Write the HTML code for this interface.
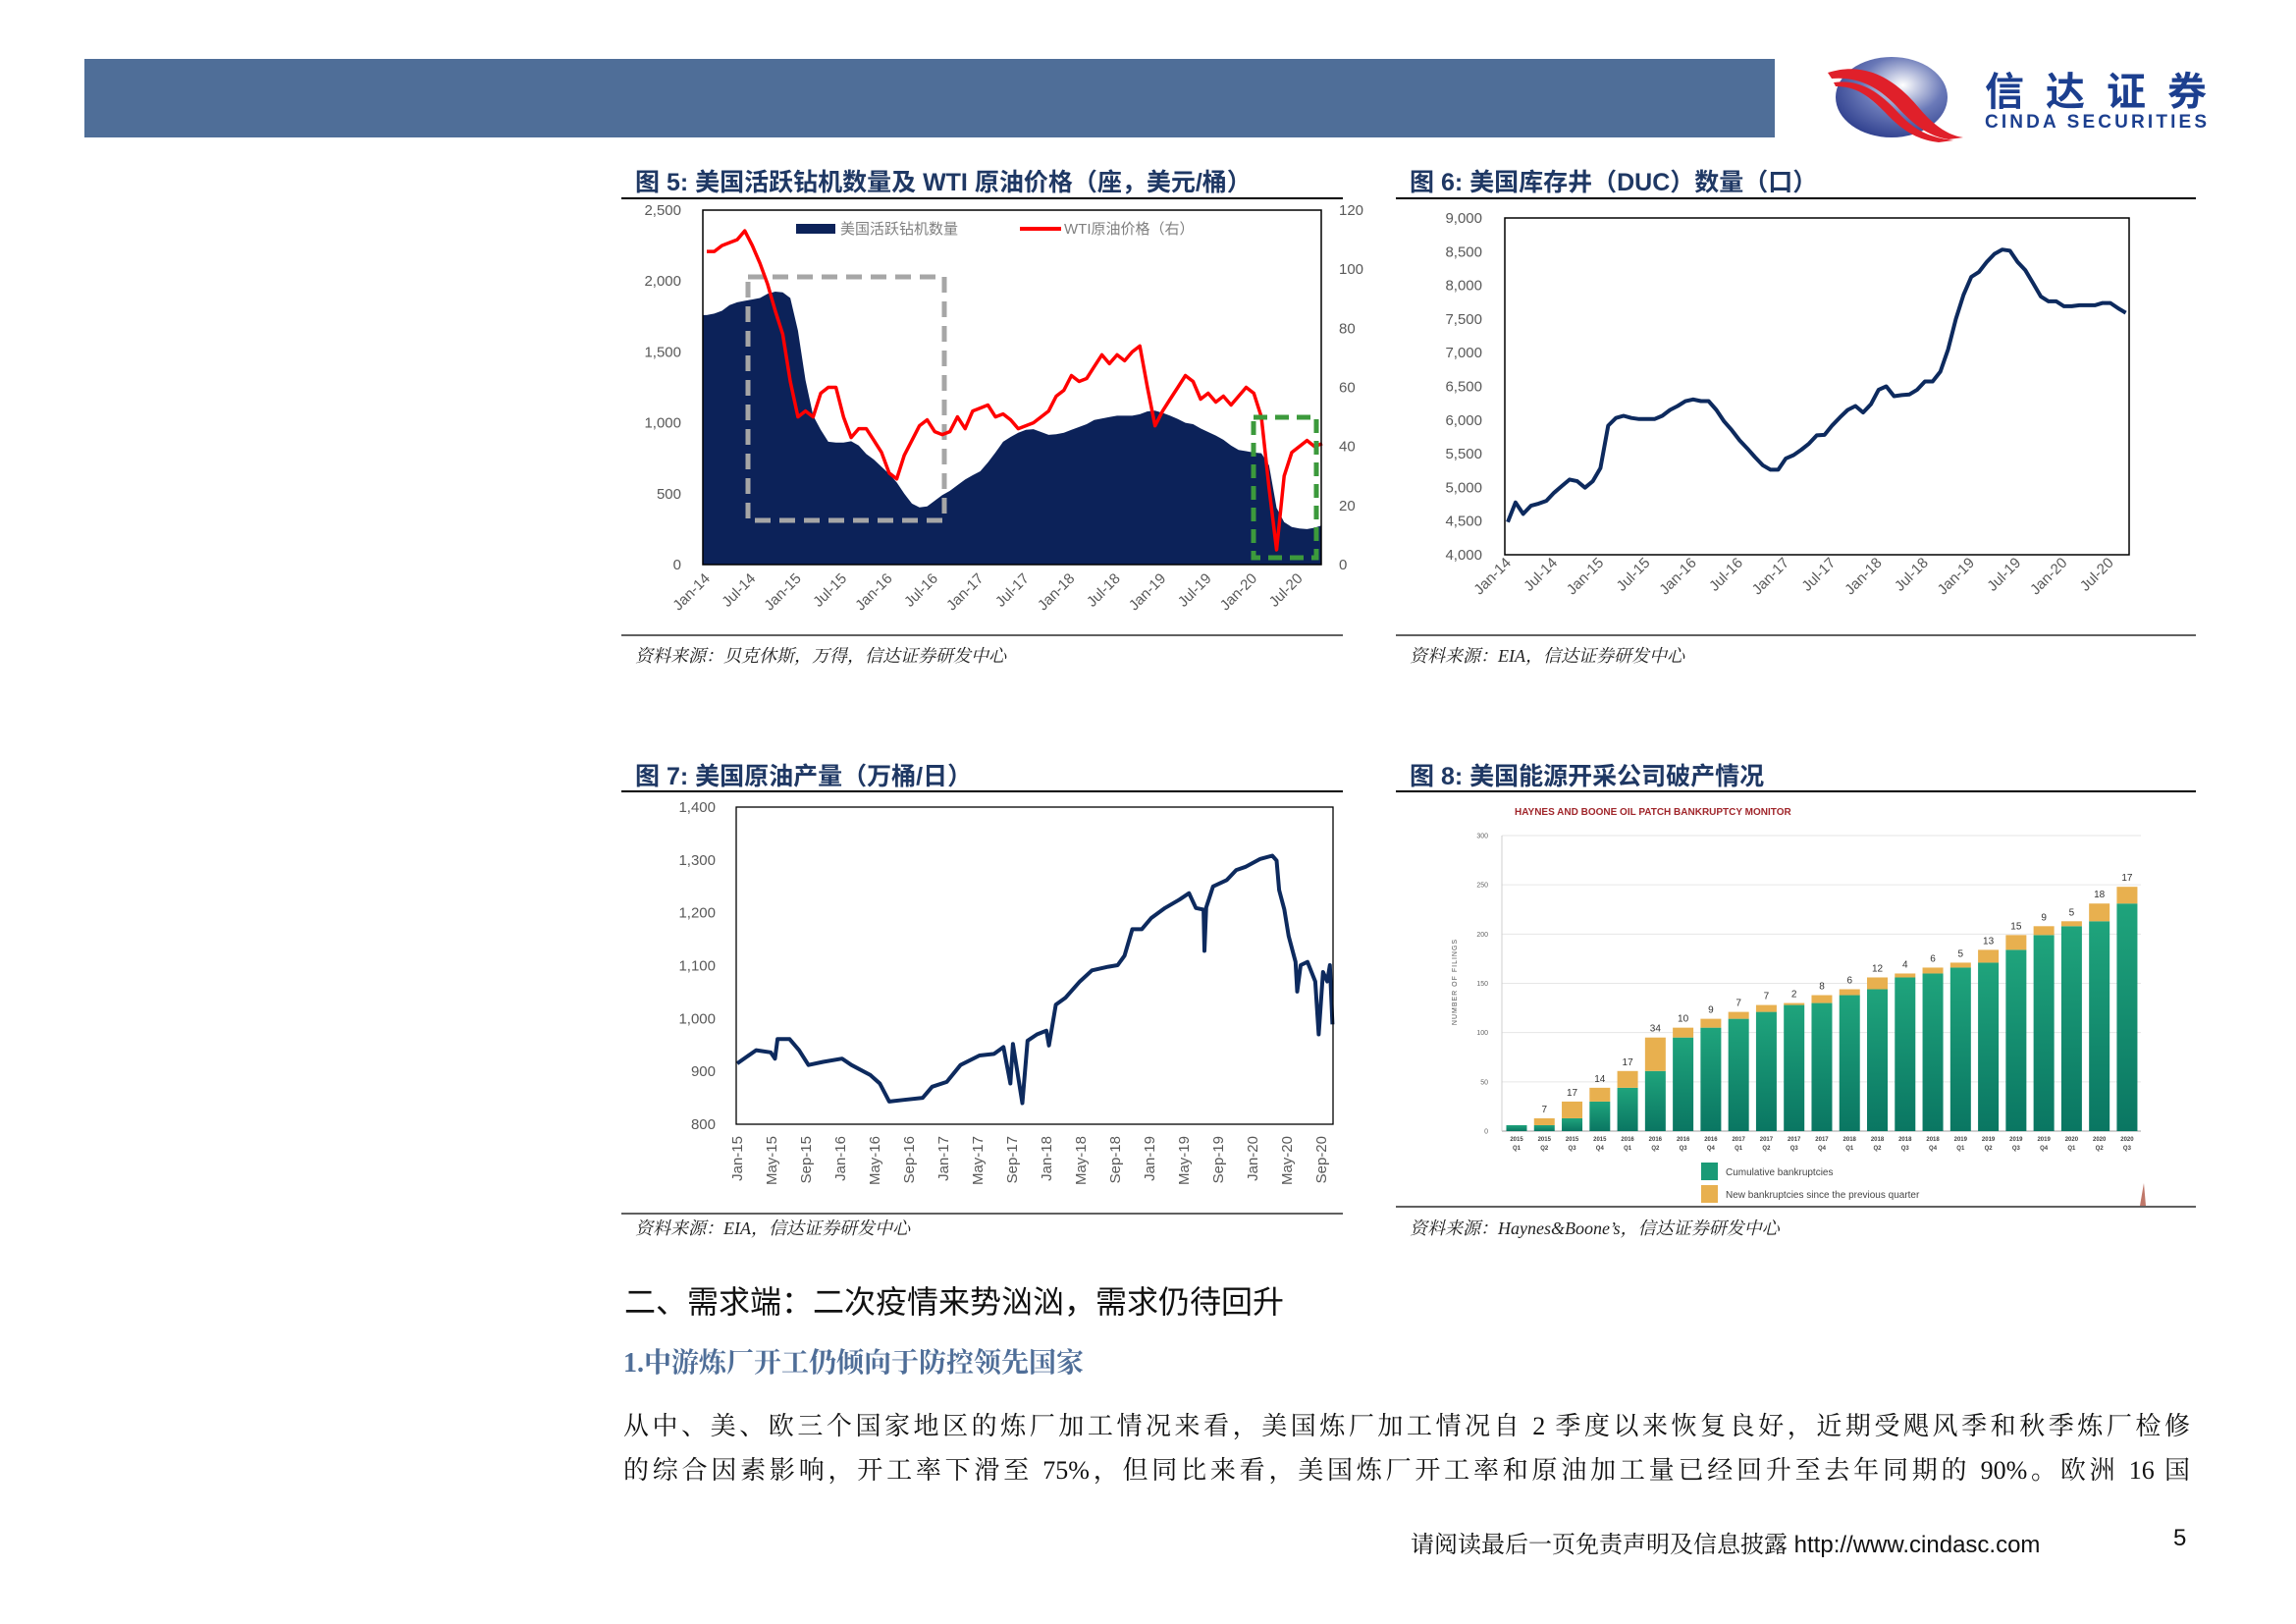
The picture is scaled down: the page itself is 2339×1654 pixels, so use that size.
<!DOCTYPE html>
<html><head><meta charset="utf-8">
<style>
html,body{margin:0;padding:0;background:#fff;}
body{width:2339px;height:1654px;position:relative;overflow:hidden;font-family:"Liberation Sans","Noto Sans CJK SC",sans-serif;}
.abs{position:absolute;white-space:nowrap;}
.body-line{position:absolute;left:635px;width:1596px;font-family:"Liberation Serif","Noto Serif CJK SC",serif;font-size:26px;color:#111;text-align:justify;text-align-last:justify;white-space:nowrap;}
</style></head>
<body>
<svg id="page" width="2339" height="1654" viewBox="0 0 2339 1654" xmlns="http://www.w3.org/2000/svg" style="position:absolute;left:0;top:0">
  <defs>
    <linearGradient id="gbar" x1="0" y1="0" x2="0" y2="1">
      <stop offset="0" stop-color="#1fa47c"/><stop offset="1" stop-color="#0a7662"/>
    </linearGradient>
    <radialGradient id="logoG" cx="0.6" cy="0.35" r="0.8">
      <stop offset="0" stop-color="#ffffff"/><stop offset="0.45" stop-color="#6a79b8"/><stop offset="1" stop-color="#1c2d80"/>
    </radialGradient>
  </defs>
  <rect x="86" y="60" width="1722" height="80" fill="#4f6e98"/>
  <g>
    <ellipse cx="1927" cy="99" rx="57" ry="41" fill="url(#logoG)"/>
    <path d="M1862 74 C1900 62 1930 80 1955 110 C1970 128 1985 138 2000 140 L1985 142 C1960 138 1945 122 1930 106 C1910 86 1890 78 1866 80 Z" fill="#e0202a"/>
    <path d="M1868 84 C1895 80 1915 94 1935 116 C1950 132 1965 140 1990 143 L1975 145 C1950 142 1935 130 1920 114 C1902 96 1890 88 1870 88 Z" fill="#e0202a"/>
    <text x="2022" y="107" font-size="40" font-weight="bold" fill="#1c3f8f" textLength="226" font-family="'Liberation Sans','Noto Sans CJK SC',sans-serif">信达证券</text>
    <text x="2022" y="130" font-size="19" font-weight="bold" fill="#1c3f8f" textLength="226" font-family="'Liberation Sans',sans-serif">CINDA SECURITIES</text>
  </g>
  <g id="c5"></g>
  <g id="c6"></g>
  <g id="c7"></g>
  <g id="c8"></g>
</svg>

<div class="abs" style="left:636px;top:1301px;font-size:32px;color:#111;">二、需求端：二次疫情来势汹汹，需求仍待回升</div>
<div class="abs" style="left:635px;top:1366px;font-size:28px;font-weight:bold;color:#4f6e98;font-family:'Liberation Serif','Noto Serif CJK SC',serif;">1.中游炼厂开工仍倾向于防控领先国家</div>
<div class="body-line" style="top:1432px;">从中、美、欧三个国家地区的炼厂加工情况来看，美国炼厂加工情况自 2 季度以来恢复良好，近期受飓风季和秋季炼厂检修</div>
<div class="body-line" style="top:1477px;">的综合因素影响，开工率下滑至 75%，但同比来看，美国炼厂开工率和原油加工量已经回升至去年同期的 90%。欧洲 16 国</div>
<div class="abs" style="left:1437px;top:1553px;font-size:24px;color:#111;font-family:'Liberation Sans','Noto Serif CJK SC',serif;">请阅读最后一页免责声明及信息披露 http://www.cindasc.com</div>
<div class="abs" style="left:2214px;top:1553px;font-size:24px;color:#111;">5</div>

<script>
// ---------- Chart 5 data ----------
const rigMonths = ['Jan-14','Jul-14','Jan-15','Jul-15','Jan-16','Jul-16','Jan-17','Jul-17','Jan-18','Jul-18','Jan-19','Jul-19','Jan-20','Jul-20'];
const rigCount = [1760,1770,1790,1830,1850,1860,1870,1880,1910,1925,1920,1880,
 1650,1300,1050,950,866,860,860,870,840,780,740,690,
 640,580,500,430,404,410,450,490,520,560,600,630,
 658,720,790,866,900,930,950,955,935,915,920,930,
 950,970,990,1020,1030,1040,1050,1050,1050,1060,1080,1085,
 1070,1050,1027,1000,990,960,935,910,880,840,808,800,
 790,785,700,400,300,265,254,250,260,277];
const wtiPrice = [106,106,108,109,110,113,108,102,95,86,78,62,
 50,52,50,58,60,60,50,43,46,46,42,38,
 31,29,37,42,47,49,45,44,45,50,46,52,
 53,54,50,51,49,46,47,48,50,52,57,59,
 64,62,63,67,71,68,71,69,72,74,60,47,
 52,56,60,64,62,56,58,55,57,54,57,60,
 58,50,26,5,30,38,40,42,40,41];
const rigLeftTicks = [0,500,1000,1500,2000,2500];
const rigRightTicks = [0,20,40,60,80,100,120];
// ---------- Chart 6 data ----------
const ducMonths = ['Jan-14','Jul-14','Jan-15','Jul-15','Jan-16','Jul-16','Jan-17','Jul-17','Jan-18','Jul-18','Jan-19','Jul-19','Jan-20','Jul-20'];
const ducWells = [4485,4777,4607,4728,4760,4800,4922,5020,5117,5092,4995,5092,
 5286,5917,6030,6063,6030,6015,6015,6015,6063,6150,6209,6280,
 6306,6282,6282,6150,5980,5850,5700,5578,5450,5330,5262,5262,
 5430,5480,5560,5650,5772,5780,5920,6040,6150,6209,6112,6233,
 6451,6500,6354,6370,6380,6451,6573,6573,6718,7050,7500,7859,
 8126,8199,8345,8466,8530,8515,8345,8223,8030,7835,7762,7762,
 7689,7689,7704,7704,7704,7738,7738,7660,7592];
const ducTicks = [4000,4500,5000,5500,6000,6500,7000,7500,8000,8500,9000];
// ---------- Chart 7 data (months since Jan-15, output 万桶/日) ----------
const prodLabels = ['Jan-15','May-15','Sep-15','Jan-16','May-16','Sep-16','Jan-17','May-17','Sep-17','Jan-18','May-18','Sep-18','Jan-19','May-19','Sep-19','Jan-20','May-20','Sep-20'];
const prodDates = [0,2.2,3.9,4.4,4.7,6.1,7.2,8.3,10,12.2,13.3,15.5,16.6,17.7,19.4,21.6,22.7,24.4,26,28.2,29.9,31,31.8,32.1,33.2,33.8,34.9,36,36.3,37.1,38.2,39.9,41.3,43.2,44.3,45.1,46,47.1,48.2,49.8,51.5,52.6,53.4,54.3,54.4,54.6,55.4,57,58.1,59.2,60.9,62.3,62.8,63.1,63.7,64.2,65,65.2,65.6,66.4,67.3,67.7,68.2,68.7,69,69.3];
const prodValues = [915,940,936,924,961,961,940,912,918,924,912,893,877,843,846,850,871,880,912,930,933,946,877,952,840,958,970,977,949,1026,1039,1070,1091,1098,1101,1119,1169,1169,1190,1209,1225,1237,1209,1206,1128,1210,1250,1262,1281,1287,1302,1308,1299,1243,1206,1156,1107,1051,1101,1107,1070,970,1088,1070,1101,989];
const prodTicks = [800,900,1000,1100,1200,1300,1400];
// ---------- Chart 8 data ----------
const bkQuarters = ['2015 Q1','2015 Q2','2015 Q3','2015 Q4','2016 Q1','2016 Q2','2016 Q3','2016 Q4','2017 Q1','2017 Q2','2017 Q3','2017 Q4','2018 Q1','2018 Q2','2018 Q3','2018 Q4','2019 Q1','2019 Q2','2019 Q3','2019 Q4','2020 Q1','2020 Q2','2020 Q3'];
const bkCumulative = [6,6,13,30,44,61,95,105,114,121,128,130,138,144,156,160,166,171,184,199,208,213,231];
const bkNew = [0,7,17,14,17,34,10,9,7,7,2,8,6,12,4,6,5,13,15,9,5,18,17];
const bkTicks = [0,50,100,150,200,250,300];

const NS='http://www.w3.org/2000/svg';
function mk(tag, attrs, parent){const e=document.createElementNS(NS,tag);for(const k in attrs)e.setAttribute(k,attrs[k]);parent.appendChild(e);return e;}
function txt(parent,x,y,s,size,fill,anchor,extra){const t=mk('text',Object.assign({x:x,y:y,'font-size':size,fill:fill,'text-anchor':anchor||'start','font-family':"'Liberation Sans','Noto Sans CJK SC',sans-serif"},extra||{}),parent);t.textContent=s;return t;}
function fmt(v){return v.toLocaleString('en-US');}
const SERIF="'Liberation Serif','Noto Serif CJK SC',serif";

function frame(g,x1,x2,titleY,lineY,srcLineY,srcY,title,src){
  const t=txt(g,x1+14,titleY,title,25,'#1f3864','start',{'font-weight':'bold'});
  
  
  const l=mk('line',{x1:x1,x2:x2,y1:lineY,y2:lineY,stroke:'#000','stroke-width':2},g);
  
  
  const l2=mk('line',{x1:x1,x2:x2,y1:srcLineY,y2:srcLineY,stroke:'#000','stroke-width':1.3},g);
  
  
  const s=txt(g,x1+14,srcY,src,18,'#222','start',{'font-style':'italic','font-family':SERIF});
  
  
}

// ===== Chart 5 =====
(function(){
  const g=document.getElementById('c5');
  frame(g,633,1368,194,202,647,674,'图 5: 美国活跃钻机数量及 WTI 原油价格（座，美元/桶）','资料来源：贝克休斯，万得，信达证券研发中心');
  const L=716,R=1346,T=214,B=575;
  const xs=t=>720+7.74*t, yl=v=>B-v/2500*(B-T), yr=v=>B-v/120*(B-T);
  let d='M'+L+','+B+' L'+L+','+yl(rigCount[0]);
  rigCount.forEach((v,i)=>{d+=' L'+xs(i).toFixed(1)+','+yl(v).toFixed(1);});
  d+=' L'+R+','+yl(rigCount[rigCount.length-1])+' L'+R+','+B+' Z';
  const area=mk('path',{d:d,fill:'#0c2259'},g);
  
  
  const gray=mk('rect',{x:762,y:282,width:200,height:248,fill:'none',stroke:'#a6a6a6','stroke-width':5,'stroke-dasharray':'16,9'},g);
  
  
  let p='';
  wtiPrice.forEach((v,i)=>{p+=(i?' L':'M')+xs(i).toFixed(1)+','+yr(v).toFixed(1);});
  const wl=mk('path',{d:p,fill:'none',stroke:'#ff0000','stroke-width':3.5,'stroke-linejoin':'round'},g);
  
  
  const green=mk('rect',{x:1277,y:425,width:64,height:143,fill:'none',stroke:'#3c9a3c','stroke-width':5,'stroke-dasharray':'14,8'},g);
  
  
  const box=mk('rect',{x:L,y:T,width:R-L,height:B-T,fill:'none',stroke:'#000','stroke-width':1.5},g);
  
  
  rigLeftTicks.forEach(v=>{const t=txt(g,694,yl(v)+5,fmt(v),15,'#595959','end');
    
    });
  rigRightTicks.forEach(v=>{const t=txt(g,1364,yr(v)+5,String(v),15,'#595959','start');
    
    });
  rigMonths.forEach((s,i)=>{const x=xs(i*6)+4;const t=txt(g,x,590,s,15,'#595959','end',{transform:'rotate(-45 '+x+' 590)'});
    
    });
  const lr=mk('rect',{x:811,y:228,width:40,height:10,fill:'#0c2259'},g);
  
  
  const lt=txt(g,856,238,'美国活跃钻机数量',15,'#7f7f7f');
  
  
  const ll=mk('line',{x1:1039,x2:1081,y1:233,y2:233,stroke:'#ff0000','stroke-width':4},g);
  
  
  const lt2=txt(g,1084,238,'WTI原油价格（右）',15,'#7f7f7f');
  
  
})();

// ===== Chart 6 =====
(function(){
  const g=document.getElementById('c6');
  frame(g,1422,2237,194,202,647,674,'图 6: 美国库存井（DUC）数量（口）','资料来源：EIA，信达证券研发中心');
  const L=1533,R=2169,T=222,B=565;
  const xs=t=>1536+7.87*t, ys=v=>B-(v-4000)/5000*(B-T);
  let p='';
  ducWells.forEach((v,i)=>{p+=(i?' L':'M')+xs(i).toFixed(1)+','+ys(v).toFixed(1);});
  const ln=mk('path',{d:p,fill:'none',stroke:'#0d2a5e','stroke-width':4,'stroke-linejoin':'round'},g);
  
  
  const box=mk('rect',{x:L,y:T,width:R-L,height:B-T,fill:'none',stroke:'#000','stroke-width':1.5},g);
  
  
  ducTicks.forEach(v=>{const t=txt(g,1510,ys(v)+5,fmt(v),15,'#595959','end');
    
    });
  ducMonths.forEach((s,i)=>{const x=xs(i*6)+4;const t=txt(g,x,574,s,15,'#595959','end',{transform:'rotate(-45 '+x+' 574)'});
    
    });
})();

// ===== Chart 7 =====
(function(){
  const g=document.getElementById('c7');
  frame(g,633,1368,799,806,1236,1257,'图 7: 美国原油产量（万桶/日）','资料来源：EIA，信达证券研发中心');
  const L=750,R=1358,T=822,B=1145;
  const xs=t=>751+8.75*t, ys=v=>B-(v-800)/600*(B-T);
  let p='';
  prodValues.forEach((v,i)=>{p+=(i?' L':'M')+xs(prodDates[i]).toFixed(1)+','+ys(v).toFixed(1);});
  const ln=mk('path',{d:p,fill:'none',stroke:'#0d2a5e','stroke-width':4,'stroke-linejoin':'round'},g);
  
  
  const box=mk('rect',{x:L,y:T,width:R-L,height:B-T,fill:'none',stroke:'#000','stroke-width':1.3},g);
  
  
  prodTicks.forEach(v=>{const t=txt(g,729,ys(v)+5,fmt(v),15,'#595959','end');
    
    });
  prodLabels.forEach((s,i)=>{const x=xs(i*4)+5;const t=txt(g,x,1157,s,15,'#595959','end',{transform:'rotate(-90 '+x+' 1157)'});
    
    });
})();

// ===== Chart 8 =====
(function(){
  const g=document.getElementById('c8');
  frame(g,1422,2237,799,806,1229,1257,'图 8: 美国能源开采公司破产情况','资料来源：Haynes&Boone\u2019s，信达证券研发中心');
  const ys=v=>1152-v/300*301, xc=i=>1545+i*28.27;
  const it=txt(g,1543,830,'HAYNES AND BOONE OIL PATCH BANKRUPTCY MONITOR',10,'#a0262b','start',{'font-weight':'bold'});
  
  
  bkTicks.forEach(v=>{
    const gl=mk('line',{x1:1530,x2:2181,y1:ys(v),y2:ys(v),stroke:v?'#e6e6e6':'#bfbfbf','stroke-width':v?1:1.5},g);
    
    
    const t=txt(g,1516,ys(v)+2.5,String(v),7,'#666','end');
    
    
  });
  const ax=mk('line',{x1:1530,x2:1530,y1:851,y2:1152,stroke:'#cfcfcf','stroke-width':1},g);
  
  
  const yt=txt(g,1484,1000,'NUMBER OF FILINGS',7,'#555','middle',{transform:'rotate(-90 1484 1000)','letter-spacing':'1'});
  
  
  bkQuarters.forEach((q,i)=>{
    const x=xc(i)-10.5, c=bkCumulative[i], n=bkNew[i];
    const gb=mk('rect',{x:x,y:ys(c),width:21,height:ys(0)-ys(c),fill:'url(#gbar)'},g);
    
    
    if(n>0){
      const ob=mk('rect',{x:x,y:ys(c+n),width:21,height:ys(c)-ys(c+n),fill:'#e8b04f'},g);
      
      
      const vl=txt(g,xc(i),ys(c+n)-6,String(n),10,'#333','middle');
      
      
    }
    const parts=q.split(' ');
    const t1=txt(g,xc(i),1162,parts[0],6,'#444','middle',{'font-weight':'bold'});
    
    
    const t2=txt(g,xc(i),1171,parts[1],6,'#444','middle',{'font-weight':'bold'});
    
    
  });
  const s1=mk('rect',{x:1733,y:1184,width:17,height:18,fill:'#1a9a76'},g);
  
  
  const l1=txt(g,1758,1197,'Cumulative bankruptcies',10,'#444');
  
  
  const s2=mk('rect',{x:1733,y:1207,width:17,height:18,fill:'#e8b04f'},g);
  
  
  const l2=txt(g,1758,1220,'New bankruptcies since the previous quarter',10,'#444');
  
  
  const tri=mk('path',{d:'M2184 1205 L2186 1228 L2180 1228 Z',fill:'#c0786a'},g);
  
  
})();
</script>
</body></html>
